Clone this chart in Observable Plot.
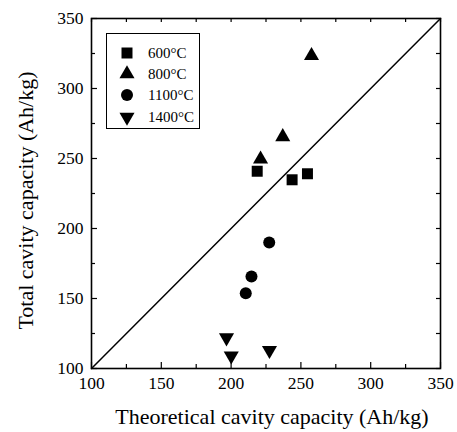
<!DOCTYPE html>
<html>
<head>
<meta charset="utf-8">
<script src="https://cdn.jsdelivr.net/npm/d3@7"></script>
<script src="https://cdn.jsdelivr.net/npm/@observablehq/plot@0.6"></script>
<style>
  body { margin: 0; background: #fff; }
  #chart { position: relative; width: 457px; height: 432px; font-family: "Liberation Serif", "Times New Roman", serif; }
  #legend { position: absolute; left: 106px; top: 33px; width: 94px; height: 96px; border: 1px solid #000; box-sizing: border-box; background: #fff; }
  #legend .row { position: absolute; left: 0; height: 20px; display: flex; align-items: center; font-size: 15px; color: #000; }
  #legend svg { width: 20px; height: 20px; margin-left: 10px; margin-right: 11px; }
</style>
</head>
<body>
<div id="chart"><div id="legend"></div></div>
<script>
// Calcination temperatures and their measured capacities (Ah/kg)
const temperatures = ["600°C", "800°C", "1100°C", "1400°C"];
const theoretical600 = [218.7, 243.7, 254.7];
const total600 = [240.9, 234.8, 239.1];
const theoretical800 = [221.1, 237.0, 257.6];
const total800 = [249.5, 265.5, 323.5];
const theoretical1100 = [210.5, 214.6, 227.3];
const total1100 = [153.8, 165.7, 190.0];
const theoretical1400 = [196.7, 200.1, 227.5];
const total1400 = [122.0, 109.0, 113.0];

const domain = [100, 350];
const majorTicks = d3.range(100, 351, 50);
const minorTicks = d3.range(125, 350, 50);

// Downward-pointing triangle (d3.symbolTriangle flipped)
const triangleDown = {
  draw(context, size) {
    const y = -Math.sqrt(size / (Math.sqrt(3) * 3));
    context.moveTo(0, -y * 2);
    context.lineTo(-Math.sqrt(3) * y, y);
    context.lineTo(Math.sqrt(3) * y, y);
    context.closePath();
  }
};

const symbols = [d3.symbolSquare, d3.symbolTriangle, d3.symbolCircle, triangleDown];
const radii = [6.2, 5.6, 6.0, 5.6];

const series = [
  [theoretical600, total600],
  [theoretical800, total800],
  [theoretical1100, total1100],
  [theoretical1400, total1400]
];
const points = series.flatMap(([xs, ys], i) =>
  xs.map((x, j) => ({temperature: temperatures[i], x, y: ys[j], k: i})));

const W = 457, H = 432;
const mL = 91, mR = 17, mT = 18, mB = 64;
const innerW = W - mL - mR, innerH = H - mT - mB;

const ticksX = (values, len, side) => Plot.tickX(values, {
  x: d => d, stroke: "#000", strokeWidth: 1.2,
  insetTop: side === "bottom" ? innerH - len : 0,
  insetBottom: side === "top" ? innerH - len : 0
});
const ticksY = (values, len, side) => Plot.tickY(values, {
  y: d => d, stroke: "#000", strokeWidth: 1.2,
  insetRight: side === "left" ? innerW - len : 0,
  insetLeft: side === "right" ? innerW - len : 0
});

const chart = Plot.plot({
  width: W, height: H,
  marginLeft: mL, marginRight: mR, marginTop: mT, marginBottom: mB,
  style: {fontFamily: "'Liberation Serif', 'Times New Roman', serif", background: "#fff", color: "#000"},
  x: {domain, ticks: majorTicks},
  y: {domain, ticks: majorTicks},
  marks: [
    Plot.line(domain, {x: d => d, y: d => d, stroke: "#000", strokeWidth: 1.5}),
    ...temperatures.map((t, i) => Plot.dot(points.filter(p => p.k === i), {
      x: "x", y: "y", symbol: () => symbols[i], r: radii[i], fill: "#000", stroke: "none"
    })),
    ticksX(majorTicks, 6, "bottom"), ticksX(minorTicks, 4, "bottom"),
    ticksX(majorTicks, 4, "top"), ticksX(minorTicks, 4, "top"),
    ticksY(majorTicks, 6, "left"), ticksY(minorTicks, 4, "left"),
    ticksY(majorTicks, 4, "right"), ticksY(minorTicks, 4, "right"),
    Plot.axisX({ticks: majorTicks, tickSize: 0, tickPadding: 8, fontSize: 17.5,
      label: "Theoretical cavity capacity (Ah/kg)", labelAnchor: "center", labelArrow: "none", labelOffset: 55}),
    Plot.axisY({ticks: majorTicks, tickSize: 0, tickPadding: 8, fontSize: 17.5,
      label: "Total cavity capacity (Ah/kg)", labelAnchor: "center", labelArrow: "none", labelOffset: 74}),
    Plot.frame({stroke: "#000", strokeWidth: 1.6})
  ]
});
// Axis titles are larger than the tick labels
chart.querySelectorAll("g[aria-label='x-axis label'] text").forEach(t => {
  t.setAttribute("font-size", 22);
  t.setAttribute("dx", 6);
});
chart.querySelectorAll("g[aria-label='y-axis label'] text").forEach(t => {
  t.setAttribute("font-size", 22);
  t.setAttribute("dx", -7);
});
document.getElementById("chart").prepend(chart);

// Legend: one row per temperature, symbol then label
const legend = d3.select("#legend");
const rowTops = [9, 30, 51, 73];
temperatures.forEach((t, i) => {
  const row = legend.append("div").attr("class", "row").style("top", rowTops[i] + "px");
  const svg = row.append("svg").attr("viewBox", "-10 -10 20 20");
  svg.append("path")
    .attr("d", d3.symbol(symbols[i], Math.PI * radii[i] * radii[i])())
    .attr("fill", "#000");
  row.append("span").text(t);
});
</script>
</body>
</html>
